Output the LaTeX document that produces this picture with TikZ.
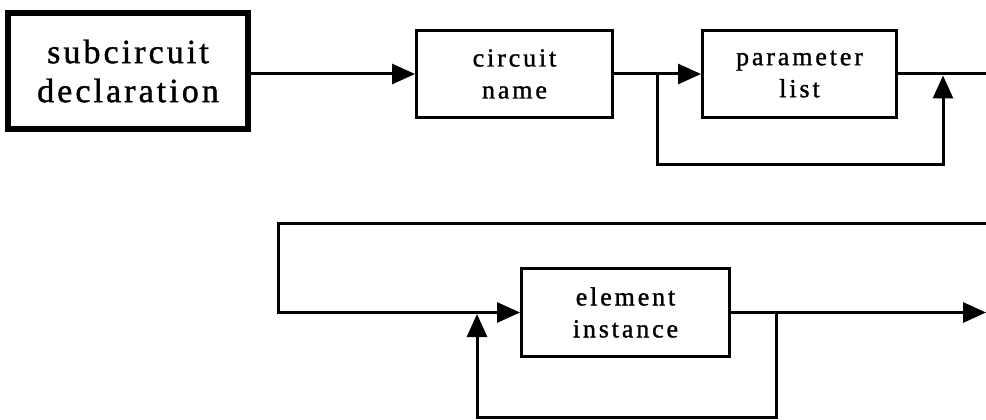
\documentclass[tikz,border=0pt]{standalone}
\usepackage{fontspec}
\setmainfont{Liberation Serif}
\newfontfamily\boxfont[LetterSpace=11,FakeBold=1.2]{Liberation Serif}
\newfontfamily\bigfont[LetterSpace=9,FakeBold=1.2]{Liberation Serif}
\usetikzlibrary{arrows.meta}
\begin{document}
\begin{tikzpicture}[x=1pt,y=-1pt,
  box/.style={draw,line width=3pt,inner sep=0pt,align=center,font=\boxfont\fontsize{26}{32}\selectfont},
  bigbox/.style={draw,line width=6pt,inner sep=0pt,align=center,font=\bigfont\fontsize{34}{39}\selectfont},
  conn/.style={line width=3pt},
  arr/.style={conn,-{Triangle[length=23pt,width=20pt]}}]
\fill[white] (0,0) rectangle (986,420);
\useasboundingbox (0,0) rectangle (986,420);

\node[bigbox,minimum width=240pt,minimum height=116pt] (sd) at (128,71) {subcircuit\\declaration};
\node[box,minimum width=196pt,minimum height=87pt] (cn) at (514.5,74) {circuit\\name};
\node[box,minimum width=194pt,minimum height=87pt] (pl) at (799.5,74) {parameter\\list};
\node[box,minimum width=208pt,minimum height=88pt] (ei) at (625.5,312.5) {element\\instance};

\coordinate (b1) at (657,74);
\coordinate (l1) at (657,164);
\coordinate (l2) at (943,164);
\coordinate (m1) at (943,75.5);
\coordinate (e1) at (986,74);
\coordinate (t1) at (986,223);
\coordinate (t2) at (278,223);
\coordinate (t3) at (278,312.5);
\coordinate (b2) at (776,312.5);
\coordinate (l3) at (776,417);
\coordinate (l4) at (477,417);
\coordinate (m2) at (477,314);
\coordinate (e2) at (986,312.5);

\draw[arr] (sd.east |- cn.west) -- (cn.west);
\draw[arr] (cn.east) -- (pl.west);
\draw[conn] (pl.east) -- (e1);
\draw[arr] (b1) -- (l1) -- (l2) -- (m1);
\draw[arr] (t1) -- (t2) -- (t3) -- (ei.west);
\draw[arr] (ei.east) -- (e2);
\draw[arr] (b2) -- (l3) -- (l4) -- (m2);
\end{tikzpicture}
\end{document}
